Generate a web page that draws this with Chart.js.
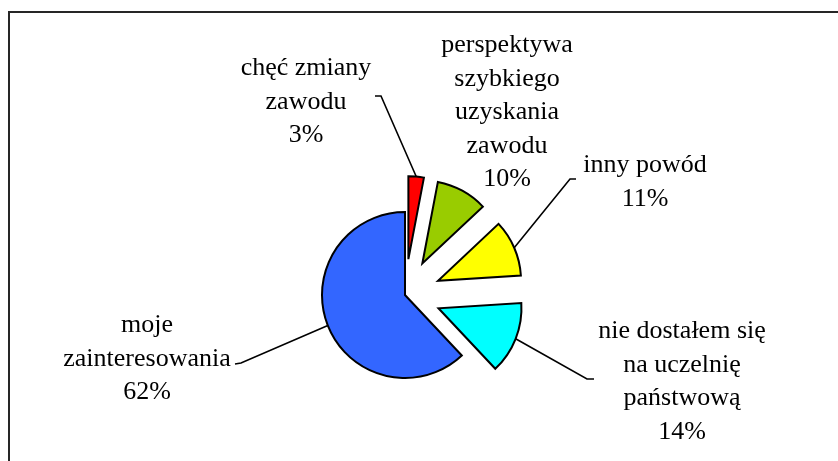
<!DOCTYPE html>
<html>
<head>
<meta charset="utf-8">
<script src="https://cdn.jsdelivr.net/npm/chart.js@4.4.7/dist/chart.umd.min.js"></script>
<style>
  html, body { margin: 0; padding: 0; background: #fff; }
  #wrap { position: relative; width: 838px; height: 461px; overflow: hidden; }
  #frame { position: absolute; left: 8px; top: 11px; width: 900px; height: 600px; border: 2px solid #262626; box-sizing: border-box; }
  canvas { position: absolute; left: 0; top: 0; }
</style>
</head>
<body>
<div id="wrap">
  <div id="frame"></div>
  <canvas id="chart" width="838" height="461"></canvas>
</div>
<script>
// ---- data ----
const categories = [
  ['chęć zmiany', 'zawodu'],
  ['perspektywa', 'szybkiego', 'uzyskania', 'zawodu'],
  ['inny powód'],
  ['nie dostałem się', 'na uczelnię', 'państwową'],
  ['moje', 'zainteresowania'],
];
const percents = [3, 10, 11, 14, 62];
const sliceColors = ['#FF0000', '#99CC00', '#FFFF00', '#00FFFF', '#3366FF'];

// explode distance per slice (px)
const explode = [36, 36, 36, 36, 0];

// label layout: centre x, first baseline; leader: elbow + end (null = no leader)
const labelLayout = [
  { cx: 306, y: 75, elbow: [381, 96], end: [375, 96] },
  { cx: 507, y: 52, elbow: null, end: null },
  { cx: 645, y: 172, elbow: [570, 179], end: [576, 179] },
  { cx: 682, y: 338, elbow: [587, 379], end: [594, 379] },
  { cx: 147, y: 332, elbow: [241, 363], end: [235, 364] },
];
const LINE_H = 33.5;

// shift each arc outward along its mid angle
const explodePlugin = {
  id: 'explode',
  afterDatasetUpdate(chart, args) {
    const meta = chart.getDatasetMeta(args.index);
    meta.data.forEach((arc, i) => {
      if (arc._wrapped) return;
      const orig = arc.draw;
      arc.draw = function (ctx, area) {
        const mid = (this.startAngle + this.endAngle) / 2;
        const d = explode[i] || 0;
        ctx.save();
        ctx.translate(Math.cos(mid) * d, Math.sin(mid) * d);
        orig.call(this, ctx, area);
        ctx.restore();
      };
      arc._wrapped = true;
    });
  },
};

const labelPlugin = {
  id: 'pieLabels',
  afterDatasetsDraw(chart) {
    const ctx = chart.ctx;
    const meta = chart.getDatasetMeta(0);
    ctx.save();
    ctx.fillStyle = '#000';
    ctx.strokeStyle = '#000';
    ctx.lineWidth = 1.6;
    ctx.font = "26px 'Liberation Serif', 'Times New Roman', serif";
    ctx.textAlign = 'center';
    ctx.textBaseline = 'alphabetic';
    meta.data.forEach((arc, i) => {
      const lay = labelLayout[i];
      const lines = [...categories[i], percents[i] + '%'];
      lines.forEach((t, k) => ctx.fillText(t, lay.cx, lay.y + k * LINE_H));
      if (lay.elbow) {
        const mid = (arc.startAngle + arc.endAngle) / 2;
        const r = arc.outerRadius + (explode[i] || 0);
        const px = arc.x + Math.cos(mid) * r;
        const py = arc.y + Math.sin(mid) * r;
        ctx.beginPath();
        ctx.moveTo(px, py);
        ctx.lineTo(lay.elbow[0], lay.elbow[1]);
        ctx.lineTo(lay.end[0], lay.end[1]);
        ctx.stroke();
      }
    });
    ctx.restore();
  },
};

new Chart(document.getElementById('chart'), {
  type: 'pie',
  data: {
    labels: categories.map((c) => c.join(' ')),
    datasets: [{
      data: percents,
      backgroundColor: sliceColors,
      borderColor: '#000',
      borderWidth: 2,
      borderJoinStyle: 'miter',
      radius: 83,
    }],
  },
  options: {
    responsive: false,
    animation: false,
    events: [],
    layout: { padding: { left: 0, right: 28, top: 129, bottom: 0 } },
    plugins: {
      legend: { display: false },
      tooltip: { enabled: false },
    },
  },
  plugins: [explodePlugin, labelPlugin],
});
</script>
</body>
</html>
